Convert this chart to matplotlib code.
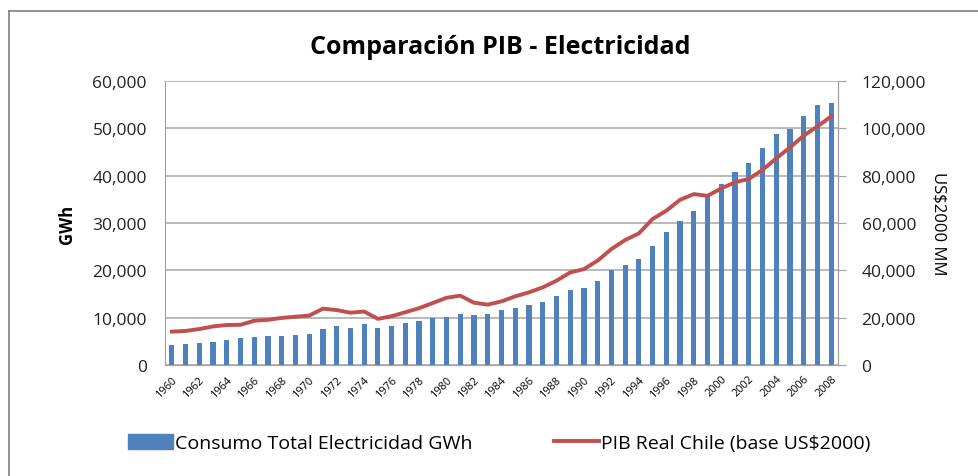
import numpy as np
import matplotlib.pyplot as plt
from matplotlib.patches import Rectangle
from matplotlib.lines import Line2D
from matplotlib.ticker import FuncFormatter

years = list(range(1960, 2009))

# Consumo total electricidad (GWh)
consumo = [4200, 4430, 4720, 4930, 5350, 5630, 5840, 6120, 6120, 6340,
           6620, 7530, 8170, 7880, 8590, 7880, 8300, 8800, 9290, 9860,
           10200, 10700, 10560, 10700, 11690, 12110, 12600, 13300, 14570, 15770,
           16260, 17670, 19990, 21050, 22320, 25130, 28160, 30480, 32450, 35760,
           38300, 40690, 42590, 45760, 48860, 49770, 52520, 54980, 55400]

# PIB real Chile (US$2000 MM)
pib = [14100, 14400, 15200, 16300, 16900, 17000, 18700, 19100, 19900, 20400,
       20900, 23800, 23200, 22100, 22600, 19500, 20600, 22300, 24000, 26200,
       28400, 29300, 26300, 25500, 26900, 29000, 30700, 32800, 35600, 39100,
       40500, 44100, 49000, 52800, 55600, 61700, 65200, 69800, 72200, 71500,
       74600, 77200, 78600, 82400, 87300, 91900, 96900, 100800, 105000]

plt.rcParams['font.family'] = ['Open Sans', 'DejaVu Sans']

fig = plt.figure(figsize=(9.79, 4.77), dpi=100)
fig.patch.set_facecolor('white')

# marco exterior del grafico
fig.add_artist(Line2D([9 / 979, 9 / 979], [0, 1 - 12 / 477], color='#808080', lw=1.2))
fig.add_artist(Line2D([9 / 979, 1], [1 - 12 / 477, 1 - 12 / 477], color='#808080', lw=1.2))

ax = fig.add_axes([165 / 979, 111 / 477, 673 / 979, 284 / 477])
x = np.arange(len(years))
ax.bar(x, consumo, width=0.38, color='#4F81BD', zorder=2)
ax.set_xlim(-0.5, len(years) - 0.5)
ax.set_ylim(0, 60000)
ax.set_yticks(np.arange(0, 60001, 10000))
fmt = FuncFormatter(lambda v, p: f'{int(v):,}')
ax.yaxis.set_major_formatter(fmt)
ax.grid(axis='y', color='#a6a6a6', lw=1.1, zorder=0)
ax.tick_params(axis='y', length=0, labelsize=12.5, colors='#222222', pad=13)
ax.set_xticks(x[::2])
ax.set_xticklabels([str(y) for y in years[::2]], rotation=45, ha='right',
                   rotation_mode='anchor', fontsize=7.8)
ax.tick_params(axis='x', length=0, pad=6)
ax.spines['top'].set_visible(False)
for s in ['left', 'right', 'bottom']:
    ax.spines[s].set_color('#a0a0a0')
ax.set_ylabel('GWh', fontsize=12, fontweight='bold', labelpad=12)

ax2 = ax.twinx()
ax2.plot(x, pib, color='#C0504D', lw=2.8, zorder=3)
ax2.set_ylim(0, 120000)
ax2.set_yticks(np.arange(0, 120001, 20000))
ax2.yaxis.set_major_formatter(fmt)
ax2.tick_params(axis='y', length=6, color='#a0a0a0', labelsize=12.5, labelcolor='#222222', pad=11)
for s in ['top', 'left', 'bottom']:
    ax2.spines[s].set_visible(False)
ax2.spines['right'].set_color('#a0a0a0')
ax2.set_ylabel('US$2000 MM', fontsize=12, rotation=270, labelpad=15)

fig.text(500 / 979, 1 - 48 / 477, 'Comparación PIB - Electricidad', ha='center', va='center',
         fontsize=18, fontweight='bold')

handles = [Rectangle((0, 0), 1, 1, color='#4F81BD'),
           Line2D([0], [0], color='#C0504D', lw=2.8)]
fig.legend(handles, ['Consumo Total Electricidad GWh', 'PIB Real Chile (base US$2000)'],
           loc='center', bbox_to_anchor=(499 / 979, 1 - 444 / 477), ncol=2, frameon=False,
           fontsize=14, handlelength=2.3, handleheight=0.8, handletextpad=0.1,
           columnspacing=4.2)

fig.savefig('out.png', dpi=100)
